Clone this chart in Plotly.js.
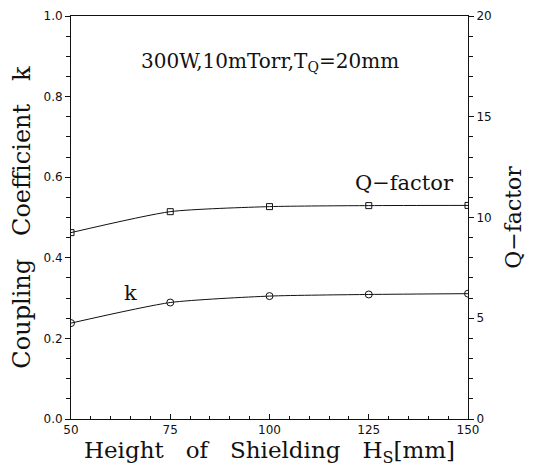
<!DOCTYPE html>
<html><head><meta charset="utf-8">
<script src="https://cdn.plot.ly/plotly-3.0.1.min.js"></script>
<style>html,body{margin:0;padding:0;background:#fff}#c{width:533px;height:470px}</style>
</head><body><div id="c"></div>
<script>
const heights = [50, 75, 100, 125, 150];
const kValues = [0.238, 0.289, 0.305, 0.309, 0.311];
const qValues = [9.25, 10.29, 10.54, 10.59, 10.6];

const serif = "DejaVu Serif";
const tickFont = {family: "DejaVu Sans", size: 12, color: "#111"};

const traces = [
  {x: heights, y: qValues, yaxis: 'y2', mode: 'lines+markers',
   line: {color: '#111', width: 1, shape: 'spline', smoothing: 0.6},
   marker: {symbol: 'square-open', size: 6, color: '#111', line: {width: 1}}},
  {x: heights, y: kValues, yaxis: 'y', mode: 'lines+markers',
   line: {color: '#111', width: 1, shape: 'spline', smoothing: 0.6},
   marker: {symbol: 'circle-open', size: 7, color: '#111', line: {width: 1}}}
];

const axBase = {showgrid: false, zeroline: false, showline: true, linecolor: '#111', linewidth: 1,
  ticks: 'outside', ticklen: 5, tickwidth: 1, tickcolor: '#111', tickfont: tickFont, tickmode: 'linear'};

const layout = {
  width: 533, height: 470, showlegend: false,
  paper_bgcolor: '#fff', plot_bgcolor: '#fff',
  margin: {l: 71, r: 65, t: 16, b: 51},
  xaxis: Object.assign({}, axBase, {range: [50, 150], tick0: 50, dtick: 25,
    mirror: true, ticks: 'inside', ticklen: 5,
    minor: {dtick: 5, tick0: 50, ticks: 'inside', ticklen: 3, tickwidth: 1, tickcolor: '#111'},
    title: {text: 'Height   of   Shielding   H<sub>S</sub>[mm]', font: {family: serif, size: 23, color: '#111'}, standoff: 2}}),
  yaxis: Object.assign({}, axBase, {range: [0, 1.0], tick0: 0, dtick: 0.2, tickformat: '.1f',
    minor: {dtick: 0.05, tick0: 0, ticks: 'outside', ticklen: 4, tickwidth: 1, tickcolor: '#111'},
    title: {text: 'Coupling   Coefficient   k', font: {family: serif, size: 24, color: '#111'}, standoff: 6}}),
  yaxis2: Object.assign({}, axBase, {range: [0, 20], overlaying: 'y', side: 'right', tick0: 0, dtick: 5,
    minor: {dtick: 1, tick0: 0, ticks: 'outside', ticklen: 4, tickwidth: 1, tickcolor: '#111'},
    title: {text: 'Q\u2212factor', font: {family: serif, size: 22, color: '#111'}, standoff: 14}}),
  annotations: [
    {x: 100, y: 0.885, xref: 'x', yref: 'y', text: '300W,10mTorr,T<sub>Q</sub>=20mm', showarrow: false,
     font: {family: serif, size: 20, color: '#111'}},
    {x: 134, y: 0.585, xref: 'x', yref: 'y', text: 'Q\u2212factor', showarrow: false,
     font: {family: serif, size: 21, color: '#111'}},
    {x: 65, y: 0.313, xref: 'x', yref: 'y', text: 'k', showarrow: false,
     font: {family: serif, size: 21, color: '#111'}}
  ]
};
Plotly.newPlot('c', traces, layout, {staticPlot: true, displayModeBar: false});
</script></body></html>
